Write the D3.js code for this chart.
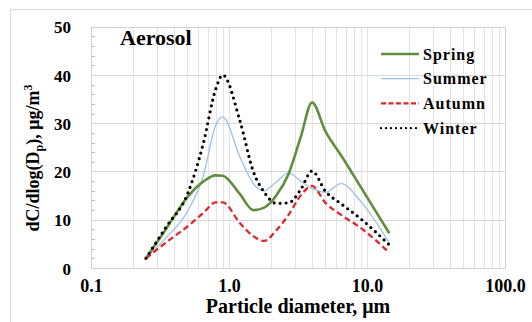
<!DOCTYPE html>
<html>
<head>
<meta charset="utf-8">
<script src="https://cdn.jsdelivr.net/npm/d3@7"></script>
</head>
<body style="margin:0;padding:0;background:#fff">
<svg id="chart" width="532" height="322" style="display:block"></svg>
<script>
// Particle size distribution of aerosol mass by season
const diameters = [0.25, 0.35, 0.5, 0.65, 0.8, 0.9, 1.2, 1.5, 1.8, 2.2, 2.7, 3.3, 4.0, 5.0, 6.5, 9.0, 14.5];
const spring = [2.0, 8.1, 14.7, 17.9, 19.2, 19.1, 15.3, 12.0, 12.5, 15.0, 19.5, 27.0, 34.3, 28.3, 23.3, 16.8, 7.2];
const summer = [2.0, 6.3, 11.7, 19.0, 29.5, 31.3, 23.0, 17.5, 16.0, 17.8, 19.7, 18.0, 16.5, 15.7, 17.5, 13.8, 5.2];
const autumn = [2.0, 5.3, 8.6, 11.4, 13.6, 13.6, 9.3, 6.6, 5.6, 7.8, 11.0, 15.0, 17.0, 13.5, 11.0, 8.3, 3.2];
const winter = [2.0, 8.5, 15.3, 25.7, 37.0, 40.0, 30.5, 20.0, 15.7, 13.4, 13.5, 16.2, 20.1, 15.9, 13.3, 10.2, 4.8];

const seriesNames = ["Spring", "Summer", "Autumn", "Winter"];
const xTicks = [0.1, 1, 10, 100];
const yTicks = [0, 10, 20, 30, 40, 50];

const FONT = "'Liberation Serif', 'Times New Roman', serif";

const seriesStyle = {
  Spring: { color: "#5f8f3e", width: 2.6, dash: null, cap: "butt" },
  Summer: { color: "#9cc2e5", width: 1.3, dash: null, cap: "butt" },
  Autumn: { color: "#e0262b", width: 2.3, dash: "6,3.5", cap: "butt" },
  Winter: { color: "#000000", width: 3.2, dash: "0,6", cap: "round" }
};
const seriesData = { Spring: spring, Summer: summer, Autumn: autumn, Winter: winter };

const svg = d3.select("#chart");
const plot = { left: 91, right: 505, top: 26.7, bottom: 268 };

const x = d3.scaleLog().domain([0.1, 100]).range([plot.left, plot.right]);
const y = d3.scaleLinear().domain([0, 50]).range([plot.bottom, plot.top]);

function bold(sel, size) {
  return sel.style("font-family", FONT).style("font-weight", "bold")
    .style("font-size", size + "px").style("fill", "#000");
}

// outer chart frame
svg.append("rect")
  .attr("x", 10.5).attr("y", 9.5).attr("width", 540).attr("height", 330)
  .attr("fill", "none").attr("stroke", "#d9d9d9").attr("stroke-width", 1);

// vertical gridlines at every log decade step
const gridX = [];
for (let dec = 0.1; dec < 100; dec *= 10) {
  for (let k = 1; k <= 9; k++) gridX.push(+(dec * k).toPrecision(3));
}
gridX.push(100);
svg.append("g").selectAll("line").data(gridX).join("line")
  .attr("x1", d => Math.round(x(d)) + 0.5).attr("x2", d => Math.round(x(d)) + 0.5)
  .attr("y1", plot.top).attr("y2", plot.bottom)
  .attr("stroke", "#e3e3e3").attr("stroke-width", 1);

// horizontal gridlines
svg.append("g").selectAll("line").data(yTicks).join("line")
  .attr("x1", plot.left).attr("x2", plot.right)
  .attr("y1", d => Math.round(y(d)) + 0.5).attr("y2", d => Math.round(y(d)) + 0.5)
  .attr("stroke", "#d9d9d9").attr("stroke-width", 1);

// plot border
svg.append("rect")
  .attr("x", plot.left + 0.5).attr("y", Math.round(plot.top) + 0.5)
  .attr("width", plot.right - plot.left).attr("height", plot.bottom - Math.round(plot.top))
  .attr("fill", "none").attr("stroke", "#d0d0d0").attr("stroke-width", 1);

// minor ticks on the value axis
const minorY = d3.range(0, 50.01, 2).filter(v => v % 10 !== 0);
svg.append("g").selectAll("line").data(minorY).join("line")
  .attr("x1", plot.left).attr("x2", plot.left + 4)
  .attr("y1", d => Math.round(y(d)) + 0.5).attr("y2", d => Math.round(y(d)) + 0.5)
  .attr("stroke", "#bfbfbf").attr("stroke-width", 1);

// value axis labels
const yAxis = d3.axisLeft(y).tickValues(yTicks).tickSize(0).tickPadding(0).tickFormat(d3.format("d"));
const gy = svg.append("g").attr("transform", `translate(${plot.left - 20},0)`).call(yAxis);
gy.select(".domain").remove();
bold(gy.selectAll("text"), 17).attr("dy", "0.36em");

// diameter axis labels
const xAxis = d3.axisBottom(x).tickValues(xTicks).tickSize(0).tickPadding(0).tickFormat(d3.format(".1f"));
const gx = svg.append("g").attr("transform", `translate(0,${plot.bottom + 11})`).call(xAxis);
gx.select(".domain").remove();
bold(gx.selectAll("text"), 18).attr("dy", "0.72em");

// series lines
const line = d3.line()
  .x(d => x(d[0]))
  .y(d => y(d[1]))
  .curve(d3.curveMonotoneX);

const drawOrder = ["Summer", "Spring", "Autumn", "Winter"];
drawOrder.forEach(name => {
  const st = seriesStyle[name];
  const pts = diameters.map((dv, i) => [dv, seriesData[name][i]]);
  svg.append("path")
    .attr("d", line(pts))
    .attr("fill", "none")
    .attr("stroke", st.color)
    .attr("stroke-width", st.width)
    .attr("stroke-linecap", st.cap)
    .attr("stroke-linejoin", "round")
    .attr("stroke-dasharray", st.dash);
});

// title inside plot
bold(svg.append("text").attr("x", 120).attr("y", 45), 22).text("Aerosol");

// legend
const legend = svg.append("g");
seriesNames.forEach((name, i) => {
  const st = seriesStyle[name];
  const ly = 54 + i * 24.7;
  legend.append("line")
    .attr("x1", 381).attr("x2", 419).attr("y1", ly).attr("y2", ly)
    .attr("stroke", st.color)
    .attr("stroke-width", name === "Winter" ? 2.4 : (name === "Summer" ? 1.3 : 2.3))
    .attr("stroke-linecap", name === "Winter" ? "round" : "butt")
    .attr("stroke-dasharray", name === "Winter" ? "0,5" : (name === "Autumn" ? "5,2.5" : null));
  bold(legend.append("text").attr("x", 423).attr("y", ly + 5.5), 16)
    .style("letter-spacing", "1px")
    .text(name);
});

// axis titles
bold(svg.append("text")
  .attr("x", (x(1) + x(10)) / 2).attr("y", 313)
  .attr("text-anchor", "middle"), 20)
  .text("Particle diameter, \u03bcm");

const yt = bold(svg.append("text")
  .attr("transform", "translate(39,158) rotate(-90)")
  .attr("text-anchor", "middle"), 18);
yt.append("tspan").text("dC/dlog(D");
yt.append("tspan").style("font-size", "12px").attr("dy", 4).text("p");
yt.append("tspan").attr("dy", -4).text("), \u03bcg/m");
yt.append("tspan").style("font-size", "12px").attr("dy", -7).text("3");
</script>
</body>
</html>
